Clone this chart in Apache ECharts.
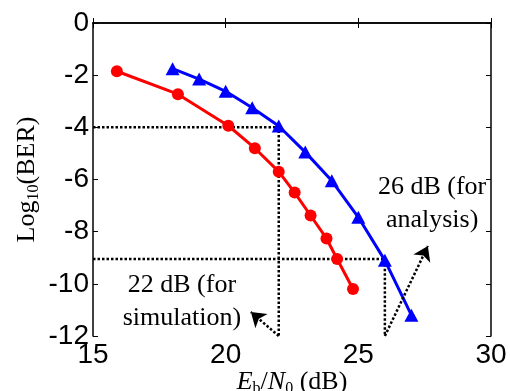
<!DOCTYPE html>
<html><head><meta charset="utf-8">
<script src="https://cdn.jsdelivr.net/npm/echarts@6/dist/echarts.min.js"></script>
<style>html,body{margin:0;padding:0;background:#fff}#c{width:510px;height:391px}</style>
</head><body><div id="c"></div>
<script>
// Simulation (red circles)
const simEbN0 = [15.9, 18.2, 20.1, 21.1, 22.0, 22.6, 23.2, 23.8, 24.2, 24.8];
const simLogBER = [-1.85, -2.73, -3.94, -4.8, -5.7, -6.5, -7.38, -8.26, -9.05, -10.2];
// Analysis (blue triangles)
const anaEbN0 = [18, 19, 20, 21, 22, 23, 24, 25, 26, 27];
const anaLogBER = [-1.75, -2.15, -2.62, -3.25, -3.95, -4.95, -6.05, -7.45, -9.1, -11.2];
// Guide lines
const guideSimX = [15, 22, 22];
const guideSimY = [-4, -4, -12];
const guideAnaX = [15, 26, 26];
const guideAnaY = [-9.05, -9.05, -12];
// Arrows: start / end
const arrowSim = [[22, -12], [20.95, -11.08]];
const arrowAna = [[26, -12], [27.62, -8.55]];
// Annotations
const noteText = ['22 dB (for\nsimulation)', '26 dB (for\nanalysis)'];
const notePos = [[18.35, -10.7], [27.78, -6.94]];
// Axis ticks
const xTicks = [15, 20, 25, 30];
const yTicks = [0, -2, -4, -6, -8, -10, -12];

const zip = (a, b) => a.map((v, i) => [v, b[i]]);
const chart = echarts.init(document.getElementById('c'), null, {renderer: 'canvas'});
const serif = 'Liberation Serif';
const sans = 'Liberation Sans';
const axisLine = {show: true, lineStyle: {color: '#000', width: 1.5}};
const tick = {show: true, inside: true, length: 5, lineStyle: {color: '#000', width: 1}};
const richT = {
  n: {fontFamily: serif, fontSize: 26, lineHeight: 30, color: '#000', verticalAlign: 'middle'},
  i: {fontFamily: serif, fontSize: 26, lineHeight: 30, color: '#000', fontStyle: 'italic', verticalAlign: 'middle'},
  s: {fontFamily: serif, fontSize: 16, lineHeight: 16, color: '#000', verticalAlign: 'bottom'}
};
const dotted = {color: '#000', width: 2.5, type: [2.5, 2]};

chart.setOption({
  animation: false,
  grid: {left: 93, top: 23, right: 19, bottom: 55, show: false, containLabel: false, outerBoundsMode: 'none'},
  xAxis: [{
    type: 'value', min: xTicks[0], max: xTicks[xTicks.length - 1], interval: 5,
    position: 'bottom', axisLine, axisTick: tick, splitLine: {show: false},
    axisLabel: {fontFamily: sans, fontSize: 28, color: '#000', margin: 5},
    name: '{i|E}{s|b}{n|/}{i|N}{s|0}{n| (dB)}', nameLocation: 'middle', nameGap: 31,
    nameMoveOverlap: false,
    nameTextStyle: {rich: richT}
  }, {
    type: 'value', min: xTicks[0], max: xTicks[xTicks.length - 1], interval: 5,
    position: 'top', axisLine, axisTick: tick, axisLabel: {show: false}, splitLine: {show: false}
  }],
  yAxis: [{
    type: 'value', min: yTicks[yTicks.length - 1], max: yTicks[0], interval: 2,
    position: 'left', axisLine, axisTick: tick, splitLine: {show: false},
    axisLabel: {fontFamily: sans, fontSize: 28, color: '#000', margin: 4},
    name: '{n|Log}{s|10}{n|(BER)}', nameLocation: 'middle', nameGap: 51, nameRotate: 90,
    nameMoveOverlap: false,
    nameTextStyle: {rich: richT}
  }, {
    type: 'value', min: yTicks[yTicks.length - 1], max: yTicks[0], interval: 2,
    position: 'right', axisLine, axisTick: tick, axisLabel: {show: false}, splitLine: {show: false}
  }],
  series: [
    {type: 'line', data: zip(guideSimX, guideSimY), symbol: 'none', lineStyle: dotted, z: 1, silent: true},
    {type: 'line', data: zip(guideAnaX, guideAnaY), symbol: 'none', lineStyle: dotted, z: 1, silent: true,
     markLine: {
       silent: true, symbol: ['none', 'arrow'], symbolSize: 14,
       label: {show: false},
       lineStyle: {color: '#000', width: 2.5, type: [2.5, 2]},
       itemStyle: {color: '#000'},
       data: [
         [{coord: arrowSim[0]}, {coord: arrowSim[1]}],
         [{coord: arrowAna[0]}, {coord: arrowAna[1]}]
       ]
     }},
    {type: 'line', data: zip(simEbN0, simLogBER), symbol: 'circle', symbolSize: 12,
     lineStyle: {color: '#ff0000', width: 3}, itemStyle: {color: '#ff0000'}, z: 3},
    {type: 'line', data: zip(anaEbN0, anaLogBER), symbol: 'triangle', symbolSize: [14, 13],
     lineStyle: {color: '#0000ff', width: 3}, itemStyle: {color: '#0000ff'}, z: 3},
    {type: 'scatter', data: notePos.map((p, k) => ({value: p, name: noteText[k]})), symbolSize: 0,
     silent: true, z: 5, itemStyle: {color: '#000', opacity: 1},
     label: {show: true, position: 'inside', formatter: p => p.name,
       fontFamily: serif, fontSize: 26, lineHeight: 33, color: '#000', align: 'center',
       textBorderWidth: 0, textBorderColor: 'transparent', opacity: 1}}
  ]
});
</script>
</body></html>
